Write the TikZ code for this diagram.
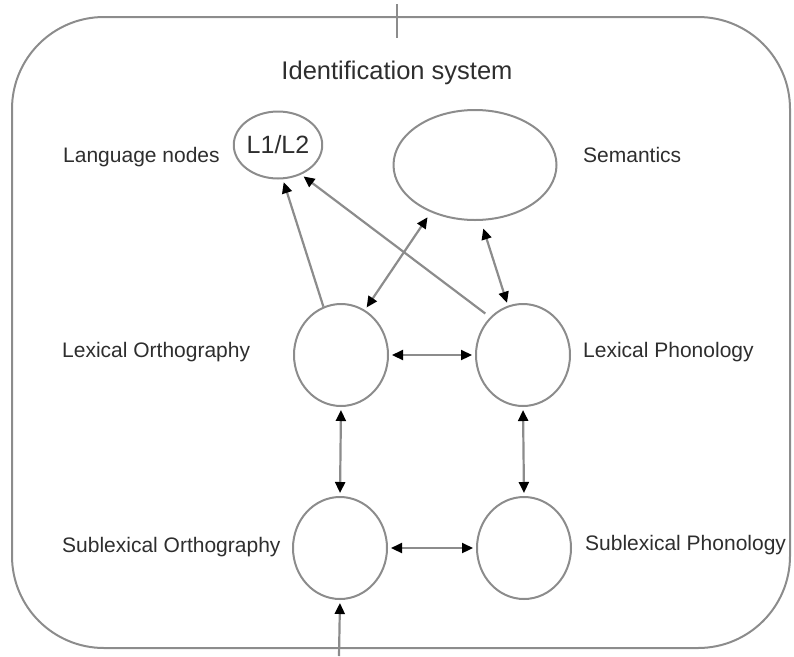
\documentclass[tikz,border=0pt]{standalone}
\usepackage{fontspec}
\setmainfont{Liberation Sans}
\usetikzlibrary{shapes.geometric,arrows.meta}
\definecolor{strokegray}{HTML}{8C8C8C}
\definecolor{txtgray}{HTML}{2E2E2E}
\begin{document}
\begin{tikzpicture}[x=1pt,y=-1pt,
  unit/.style={draw=strokegray, line width=2pt, ellipse, inner sep=0pt, minimum width=94pt, minimum height=102pt},
  lbl/.style={text=txtgray, font=\fontsize{21}{25}\selectfont, anchor=west, inner sep=0pt},
  tip/.tip={Triangle[length=11pt,width=10pt,color=black]},
  conn/.style={draw=strokegray, line width=2.2pt, -tip, shorten >=3pt},
  bconn/.style={draw=strokegray, line width=2.2pt, tip-tip, shorten >=3pt, shorten <=3pt}]
\useasboundingbox (0,0) rectangle (794,656);
% outer frame
\draw[strokegray, line width=2pt, rounded corners=92pt] (12,17) rectangle (790,648);
\node[text=txtgray, font=\fontsize{25.5}{29}\selectfont] (title) at (397,73) {Identification system};
% nodes
\node[draw=strokegray, line width=2pt, ellipse, inner sep=0pt, minimum width=75pt, minimum height=67pt,
      text=txtgray, font=\fontsize{25}{28}\selectfont] (l12) at (278,145) {L1/L2};
\node[draw=strokegray, line width=2pt, ellipse, inner sep=0pt, minimum width=163pt, minimum height=110pt] (sem) at (475,165) {};
\node[unit] (lo) at (341,355) {};
\node[unit] (lp) at (523,355) {};
\node[unit] (so) at (340,548) {};
\node[unit] (sp) at (524,548) {};
% labels
\node[lbl] (lang) at (63,157) {Language nodes};
\node[lbl] (semlbl) at (583,155) {Semantics};
\node[lbl] (lolbl) at (62,352) {Lexical Orthography};
\node[lbl] (lplbl) at (583,352) {Lexical Phonology};
\node[lbl] (solbl) at (62,547) {Sublexical Orthography};
\node[lbl] (splbl) at (585,545) {Sublexical Phonology};
% connectors
\coordinate (topa) at (397,4);
\coordinate (topb) at (397,38);
\draw[strokegray, line width=2pt] (topa) -- (topb);
\coordinate (bot) at (339,656);
\draw[conn] (bot) -- (so.south);
\draw[conn] (lo.110) -- (l12.-82);
\draw[conn, shorten <=6pt] (lp.131) -- (l12.-52);
\draw[bconn, shorten >=6pt] (lo.62) -- (sem.-133);
\draw[bconn, shorten <=8pt] (sem.-84) -- (lp.107);
\draw[bconn] (lo.east) -- (lp.west);
\draw[bconn] (lo.south) -- (so.north);
\draw[bconn] (lp.south) -- (sp.north);
\draw[bconn] (so.east) -- (sp.west);
\end{tikzpicture}
\end{document}
